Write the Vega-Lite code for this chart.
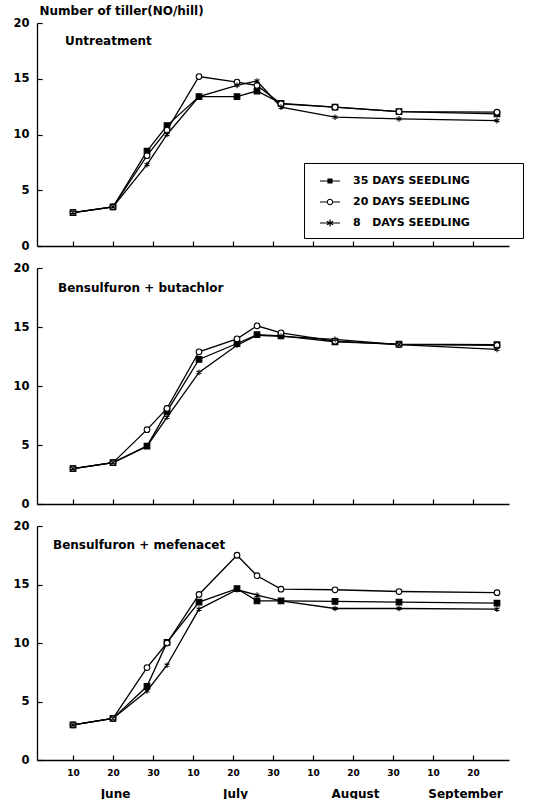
{
  "$schema": "https://vega.github.io/schema/vega-lite/v6.json",
  "background": "white",
  "padding": {"left": 5, "top": 4, "right": 5, "bottom": 0},
  "spacing": 10,
  "config": {
    "view": {"stroke": null},
    "font": "DejaVu Sans",
    "axis": {"domainColor": "black", "domainWidth": 1.3, "tickColor": "black", "tickWidth": 1.2, "labelColor": "black", "labelFont": "DejaVu Sans", "labelFontWeight": "bold", "titleFont": "DejaVu Sans", "titleColor": "black", "grid": false}
  },
  "resolve": {"scale": {"shape": "independent", "fill": "independent"}},
  "datasets": {
    "tiller": [
      {"p": "U", "s": "35 DAYS SEEDLING", "d": 10, "v": 3.0},
      {"p": "U", "s": "35 DAYS SEEDLING", "d": 20, "v": 3.5},
      {"p": "U", "s": "35 DAYS SEEDLING", "d": 28.5, "v": 8.5},
      {"p": "U", "s": "35 DAYS SEEDLING", "d": 33.5, "v": 10.8},
      {"p": "U", "s": "35 DAYS SEEDLING", "d": 41.5, "v": 13.4},
      {"p": "U", "s": "35 DAYS SEEDLING", "d": 51, "v": 13.4},
      {"p": "U", "s": "35 DAYS SEEDLING", "d": 56, "v": 13.9},
      {"p": "U", "s": "35 DAYS SEEDLING", "d": 62, "v": 12.8},
      {"p": "U", "s": "35 DAYS SEEDLING", "d": 75.5, "v": 12.45},
      {"p": "U", "s": "35 DAYS SEEDLING", "d": 91.5, "v": 12.05},
      {"p": "U", "s": "35 DAYS SEEDLING", "d": 116, "v": 11.85},
      {"p": "U", "s": "20 DAYS SEEDLING", "d": 10, "v": 3.0},
      {"p": "U", "s": "20 DAYS SEEDLING", "d": 20, "v": 3.5},
      {"p": "U", "s": "20 DAYS SEEDLING", "d": 28.5, "v": 8.1},
      {"p": "U", "s": "20 DAYS SEEDLING", "d": 33.5, "v": 10.4},
      {"p": "U", "s": "20 DAYS SEEDLING", "d": 41.5, "v": 15.2},
      {"p": "U", "s": "20 DAYS SEEDLING", "d": 51, "v": 14.7},
      {"p": "U", "s": "20 DAYS SEEDLING", "d": 56, "v": 14.4},
      {"p": "U", "s": "20 DAYS SEEDLING", "d": 62, "v": 12.75},
      {"p": "U", "s": "20 DAYS SEEDLING", "d": 75.5, "v": 12.45},
      {"p": "U", "s": "20 DAYS SEEDLING", "d": 91.5, "v": 12.05},
      {"p": "U", "s": "20 DAYS SEEDLING", "d": 116, "v": 12.0},
      {"p": "U", "s": "8 DAYS SEEDLING", "d": 10, "v": 3.0},
      {"p": "U", "s": "8 DAYS SEEDLING", "d": 20, "v": 3.5},
      {"p": "U", "s": "8 DAYS SEEDLING", "d": 28.5, "v": 7.3},
      {"p": "U", "s": "8 DAYS SEEDLING", "d": 33.5, "v": 10.0},
      {"p": "U", "s": "8 DAYS SEEDLING", "d": 41.5, "v": 13.4},
      {"p": "U", "s": "8 DAYS SEEDLING", "d": 51, "v": 14.4},
      {"p": "U", "s": "8 DAYS SEEDLING", "d": 56, "v": 14.8},
      {"p": "U", "s": "8 DAYS SEEDLING", "d": 62, "v": 12.45},
      {"p": "U", "s": "8 DAYS SEEDLING", "d": 75.5, "v": 11.55},
      {"p": "U", "s": "8 DAYS SEEDLING", "d": 91.5, "v": 11.4},
      {"p": "U", "s": "8 DAYS SEEDLING", "d": 116, "v": 11.25},
      {"p": "B", "s": "35 DAYS SEEDLING", "d": 10, "v": 3.0},
      {"p": "B", "s": "35 DAYS SEEDLING", "d": 20, "v": 3.5},
      {"p": "B", "s": "35 DAYS SEEDLING", "d": 28.5, "v": 4.9},
      {"p": "B", "s": "35 DAYS SEEDLING", "d": 33.5, "v": 7.85},
      {"p": "B", "s": "35 DAYS SEEDLING", "d": 41.5, "v": 12.25},
      {"p": "B", "s": "35 DAYS SEEDLING", "d": 51, "v": 13.6},
      {"p": "B", "s": "35 DAYS SEEDLING", "d": 56, "v": 14.35},
      {"p": "B", "s": "35 DAYS SEEDLING", "d": 62, "v": 14.25},
      {"p": "B", "s": "35 DAYS SEEDLING", "d": 75.5, "v": 13.75},
      {"p": "B", "s": "35 DAYS SEEDLING", "d": 91.5, "v": 13.55},
      {"p": "B", "s": "35 DAYS SEEDLING", "d": 116, "v": 13.5},
      {"p": "B", "s": "20 DAYS SEEDLING", "d": 10, "v": 3.0},
      {"p": "B", "s": "20 DAYS SEEDLING", "d": 20, "v": 3.5},
      {"p": "B", "s": "20 DAYS SEEDLING", "d": 28.5, "v": 6.3},
      {"p": "B", "s": "20 DAYS SEEDLING", "d": 33.5, "v": 8.1},
      {"p": "B", "s": "20 DAYS SEEDLING", "d": 41.5, "v": 12.9},
      {"p": "B", "s": "20 DAYS SEEDLING", "d": 51, "v": 14.0},
      {"p": "B", "s": "20 DAYS SEEDLING", "d": 56, "v": 15.1},
      {"p": "B", "s": "20 DAYS SEEDLING", "d": 62, "v": 14.5},
      {"p": "B", "s": "20 DAYS SEEDLING", "d": 75.5, "v": 13.8},
      {"p": "B", "s": "20 DAYS SEEDLING", "d": 91.5, "v": 13.5},
      {"p": "B", "s": "20 DAYS SEEDLING", "d": 116, "v": 13.45},
      {"p": "B", "s": "8 DAYS SEEDLING", "d": 10, "v": 3.0},
      {"p": "B", "s": "8 DAYS SEEDLING", "d": 20, "v": 3.5},
      {"p": "B", "s": "8 DAYS SEEDLING", "d": 28.5, "v": 4.9},
      {"p": "B", "s": "8 DAYS SEEDLING", "d": 33.5, "v": 7.35},
      {"p": "B", "s": "8 DAYS SEEDLING", "d": 41.5, "v": 11.15},
      {"p": "B", "s": "8 DAYS SEEDLING", "d": 51, "v": 13.45},
      {"p": "B", "s": "8 DAYS SEEDLING", "d": 56, "v": 14.3},
      {"p": "B", "s": "8 DAYS SEEDLING", "d": 62, "v": 14.2},
      {"p": "B", "s": "8 DAYS SEEDLING", "d": 75.5, "v": 13.95},
      {"p": "B", "s": "8 DAYS SEEDLING", "d": 91.5, "v": 13.5},
      {"p": "B", "s": "8 DAYS SEEDLING", "d": 116, "v": 13.1},
      {"p": "M", "s": "35 DAYS SEEDLING", "d": 10, "v": 3.0},
      {"p": "M", "s": "35 DAYS SEEDLING", "d": 20, "v": 3.55},
      {"p": "M", "s": "35 DAYS SEEDLING", "d": 28.5, "v": 6.3},
      {"p": "M", "s": "35 DAYS SEEDLING", "d": 33.5, "v": 10.05},
      {"p": "M", "s": "35 DAYS SEEDLING", "d": 41.5, "v": 13.5},
      {"p": "M", "s": "35 DAYS SEEDLING", "d": 51, "v": 14.65},
      {"p": "M", "s": "35 DAYS SEEDLING", "d": 56, "v": 13.6},
      {"p": "M", "s": "35 DAYS SEEDLING", "d": 62, "v": 13.6},
      {"p": "M", "s": "35 DAYS SEEDLING", "d": 75.5, "v": 13.55},
      {"p": "M", "s": "35 DAYS SEEDLING", "d": 91.5, "v": 13.5},
      {"p": "M", "s": "35 DAYS SEEDLING", "d": 116, "v": 13.4},
      {"p": "M", "s": "20 DAYS SEEDLING", "d": 10, "v": 3.0},
      {"p": "M", "s": "20 DAYS SEEDLING", "d": 20, "v": 3.55},
      {"p": "M", "s": "20 DAYS SEEDLING", "d": 28.5, "v": 7.9},
      {"p": "M", "s": "20 DAYS SEEDLING", "d": 33.5, "v": 10.0},
      {"p": "M", "s": "20 DAYS SEEDLING", "d": 41.5, "v": 14.15},
      {"p": "M", "s": "20 DAYS SEEDLING", "d": 51, "v": 17.5},
      {"p": "M", "s": "20 DAYS SEEDLING", "d": 56, "v": 15.75},
      {"p": "M", "s": "20 DAYS SEEDLING", "d": 62, "v": 14.6},
      {"p": "M", "s": "20 DAYS SEEDLING", "d": 75.5, "v": 14.55},
      {"p": "M", "s": "20 DAYS SEEDLING", "d": 91.5, "v": 14.4},
      {"p": "M", "s": "20 DAYS SEEDLING", "d": 116, "v": 14.3},
      {"p": "M", "s": "8 DAYS SEEDLING", "d": 10, "v": 3.0},
      {"p": "M", "s": "8 DAYS SEEDLING", "d": 20, "v": 3.55},
      {"p": "M", "s": "8 DAYS SEEDLING", "d": 28.5, "v": 5.9},
      {"p": "M", "s": "8 DAYS SEEDLING", "d": 33.5, "v": 8.1},
      {"p": "M", "s": "8 DAYS SEEDLING", "d": 41.5, "v": 12.9},
      {"p": "M", "s": "8 DAYS SEEDLING", "d": 51, "v": 14.55},
      {"p": "M", "s": "8 DAYS SEEDLING", "d": 56, "v": 14.1},
      {"p": "M", "s": "8 DAYS SEEDLING", "d": 62, "v": 13.6},
      {"p": "M", "s": "8 DAYS SEEDLING", "d": 75.5, "v": 12.95},
      {"p": "M", "s": "8 DAYS SEEDLING", "d": 91.5, "v": 12.95},
      {"p": "M", "s": "8 DAYS SEEDLING", "d": 116, "v": 12.9}
    ]
  },
  "vconcat": [
    {
      "width": 472, "height": 223,
      "resolve": {"scale": {"shape": "independent", "fill": "independent"}},
      "layer": [
        {
          "data": {"name": "tiller"},
          "transform": [{"filter": "datum.p == 'U'"}],
          "mark": {"type": "line", "color": "black", "strokeWidth": 1.3},
          "encoding": {
            "x": {"field": "d", "type": "quantitative", "scale": {"domain": [1, 119], "nice": false, "zero": false},
                  "axis": {"values": [10, 20, 30, 40, 50, 60, 70, 80, 90, 100, 110], "labels": false, "tickSize": -5, "title": null}},
            "y": {"field": "v", "type": "quantitative", "scale": {"domain": [0, 20], "nice": false},
                  "axis": {"values": [0, 5, 10, 15, 20], "tickSize": -5, "labelPadding": 13, "labelFontSize": 11.5, "minExtent": 32, "maxExtent": 32,
                           "title": "Number of tiller(NO/hill)", "titleAngle": 0, "titleAlign": "left", "titleBaseline": "alphabetic", "titleX": 2, "titleY": -9, "titleFontSize": 12, "titleFontWeight": "bold"}},
            "detail": {"field": "s"}
          }
        },
        {
          "data": {"name": "tiller"},
          "transform": [{"filter": "datum.p == 'U'"}],
          "mark": {"type": "point", "filled": true, "stroke": "black", "strokeWidth": 1.1, "opacity": 1, "size": 32},
          "encoding": {
            "x": {"field": "d", "type": "quantitative", "scale": {"domain": [1, 119], "nice": false, "zero": false}},
            "y": {"field": "v", "type": "quantitative", "scale": {"domain": [0, 20], "nice": false}},
            "shape": {"field": "s", "type": "nominal",
                      "scale": {"domain": ["35 DAYS SEEDLING", "20 DAYS SEEDLING", "8 DAYS SEEDLING"], "range": ["square", "circle", "M0,-1V1M-0.87,-0.5L0.87,0.5M-0.87,0.5L0.87,-0.5"]},
                      "legend": null},
            "fill": {"field": "s", "type": "nominal", "scale": {"domain": ["35 DAYS SEEDLING", "20 DAYS SEEDLING", "8 DAYS SEEDLING"], "range": ["black", "white", "black"]}, "legend": null}
          }
        },
        {
          "data": {"name": "tiller"},
          "transform": [{"filter": "datum.p == 'none'"}],
          "mark": {"type": "point", "filled": true, "fill": "black", "color": "black", "stroke": "transparent", "opacity": 1},
          "encoding": {
            "x": {"field": "d", "type": "quantitative", "scale": {"domain": [1, 119], "nice": false, "zero": false}},
            "y": {"field": "v", "type": "quantitative", "scale": {"domain": [0, 20], "nice": false}},
            "shape": {"field": "s", "type": "nominal",
                      "scale": {"domain": ["35 DAYS SEEDLING", "20 DAYS SEEDLING", "8 DAYS SEEDLING"],
                                "range": [
                                  "M-0.25,-0.075H2.25V0.075H-0.25ZM0.68,-0.32H1.32V0.32H0.68Z",
                                  "M-0.25,-0.075H0.62V0.075H-0.25ZM1.38,-0.075H2.25V0.075H1.38ZM0.6,0A0.4,0.4 0 1,1 1.4,0A0.4,0.4 0 1,1 0.6,0ZM0.73,0A0.27,0.27 0 1,0 1.27,0A0.27,0.27 0 1,0 0.73,0Z",
                                  "M-0.25,-0.075H2.25V0.075H-0.25ZM0.925,-0.45H1.075V0.45H0.925ZM0.5725,-0.16L0.6475,-0.29L1.4275,0.16L1.3525,0.29ZM0.6475,0.29L0.5725,0.16L1.3525,-0.29L1.4275,-0.16Z"
                                ]},
                      "legend": {
                        "orient": "none", "legendX": 267, "legendY": 140, "title": null,
                        "padding": 10, "strokeColor": "black", "fillColor": "white",
                        "symbolSize": 256, "rowPadding": 8, "labelOffset": 23,
                        "symbolFillColor": "black", "symbolStrokeColor": "transparent", "symbolStrokeWidth": 0,
                        "labelFont": "DejaVu Sans", "labelFontWeight": "bold", "labelFontSize": 11, "labelColor": "black", "labelLimit": 400,
                        "labelExpr": "(datum.label == '8 DAYS SEEDLING' ? '8\u2007 DAYS SEEDLING' : datum.label) + '\u2800\u2800\u2800\u2800\u2800'"
                      }}
          }
        },
        {
          "data": {"values": [{"t": "Untreatment"}]},
          "mark": {"type": "text", "align": "left", "baseline": "middle", "font": "DejaVu Sans", "fontWeight": "bold", "fontSize": 12, "color": "black"},
          "encoding": {
            "x": {"datum": 8, "type": "quantitative", "scale": {"domain": [1, 119], "nice": false, "zero": false}},
            "y": {"datum": 18.4, "type": "quantitative", "scale": {"domain": [0, 20], "nice": false}},
            "text": {"field": "t"}
          }
        }
      ]
    },
    {
      "width": 472, "height": 236,
      "layer": [
        {
          "data": {"name": "tiller"},
          "transform": [{"filter": "datum.p == 'B'"}],
          "mark": {"type": "line", "color": "black", "strokeWidth": 1.3},
          "encoding": {
            "x": {"field": "d", "type": "quantitative", "scale": {"domain": [1, 119], "nice": false, "zero": false},
                  "axis": {"values": [10, 20, 30, 40, 50, 60, 70, 80, 90, 100, 110], "labels": false, "tickSize": -5, "title": null}},
            "y": {"field": "v", "type": "quantitative", "scale": {"domain": [0, 20], "nice": false},
                  "axis": {"values": [0, 5, 10, 15, 20], "tickSize": -5, "labelPadding": 13, "labelFontSize": 11.5, "minExtent": 32, "maxExtent": 32, "title": null}},
            "detail": {"field": "s"}
          }
        },
        {
          "data": {"name": "tiller"},
          "transform": [{"filter": "datum.p == 'B'"}],
          "mark": {"type": "point", "filled": true, "stroke": "black", "strokeWidth": 1.1, "opacity": 1, "size": 32},
          "encoding": {
            "x": {"field": "d", "type": "quantitative", "scale": {"domain": [1, 119], "nice": false, "zero": false}},
            "y": {"field": "v", "type": "quantitative", "scale": {"domain": [0, 20], "nice": false}},
            "shape": {"field": "s", "type": "nominal",
                      "scale": {"domain": ["35 DAYS SEEDLING", "20 DAYS SEEDLING", "8 DAYS SEEDLING"], "range": ["square", "circle", "M0,-1V1M-0.87,-0.5L0.87,0.5M-0.87,0.5L0.87,-0.5"]},
                      "legend": null},
            "fill": {"field": "s", "type": "nominal", "scale": {"domain": ["35 DAYS SEEDLING", "20 DAYS SEEDLING", "8 DAYS SEEDLING"], "range": ["black", "white", "black"]}, "legend": null}
          }
        },
        {
          "data": {"values": [{"t": "Bensulfuron + butachlor"}]},
          "mark": {"type": "text", "align": "left", "baseline": "middle", "font": "DejaVu Sans", "fontWeight": "bold", "fontSize": 12, "color": "black"},
          "encoding": {
            "x": {"datum": 6.25, "type": "quantitative", "scale": {"domain": [1, 119], "nice": false, "zero": false}},
            "y": {"datum": 18.3, "type": "quantitative", "scale": {"domain": [0, 20], "nice": false}},
            "text": {"field": "t"}
          }
        }
      ]
    },
    {
      "width": 472, "height": 234,
      "resolve": {"axis": {"x": "independent"}},
      "layer": [
        {
          "data": {"name": "tiller"},
          "transform": [{"filter": "datum.p == 'M'"}],
          "mark": {"type": "line", "color": "black", "strokeWidth": 1.3},
          "encoding": {
            "x": {"field": "d", "type": "quantitative", "scale": {"domain": [1, 119], "nice": false, "zero": false},
                  "axis": {"orient": "bottom", "values": [10, 20, 30, 40, 50, 60, 70, 80, 90, 100, 110], "labelExpr": "'' + ((datum.value - 1) % 30 + 1)", "labelFontSize": 9, "labelPadding": 13, "labelFlush": false, "labelOverlap": false, "tickSize": -5, "title": null}},
            "y": {"field": "v", "type": "quantitative", "scale": {"domain": [0, 20], "nice": false},
                  "axis": {"values": [0, 5, 10, 15, 20], "tickSize": -5, "labelPadding": 13, "labelFontSize": 11.5, "minExtent": 32, "maxExtent": 32, "title": null}},
            "detail": {"field": "s"}
          }
        },
        {
          "data": {"name": "tiller"},
          "transform": [{"filter": "datum.p == 'M'"}],
          "mark": {"type": "point", "filled": true, "stroke": "black", "strokeWidth": 1.1, "opacity": 1, "size": 32},
          "encoding": {
            "x": {"field": "d", "type": "quantitative", "scale": {"domain": [1, 119], "nice": false, "zero": false},
                  "axis": {"orient": "bottom", "values": [20.5, 50.5, 80.5, 108], "labelExpr": "datum.value < 30 ? 'June' : datum.value < 60 ? 'July' : datum.value < 90 ? 'August' : 'September'", "labelFontSize": 12, "labelPadding": 28, "labelFlush": false, "labelOverlap": false, "ticks": false, "domain": false, "title": null}},
            "y": {"field": "v", "type": "quantitative", "scale": {"domain": [0, 20], "nice": false}},
            "shape": {"field": "s", "type": "nominal",
                      "scale": {"domain": ["35 DAYS SEEDLING", "20 DAYS SEEDLING", "8 DAYS SEEDLING"], "range": ["square", "circle", "M0,-1V1M-0.87,-0.5L0.87,0.5M-0.87,0.5L0.87,-0.5"]},
                      "legend": null},
            "fill": {"field": "s", "type": "nominal", "scale": {"domain": ["35 DAYS SEEDLING", "20 DAYS SEEDLING", "8 DAYS SEEDLING"], "range": ["black", "white", "black"]}, "legend": null}
          }
        },
        {
          "data": {"values": [{"t": "Bensulfuron + mefenacet"}]},
          "mark": {"type": "text", "align": "left", "baseline": "middle", "font": "DejaVu Sans", "fontWeight": "bold", "fontSize": 12, "color": "black"},
          "encoding": {
            "x": {"datum": 5, "type": "quantitative", "scale": {"domain": [1, 119], "nice": false, "zero": false}, "axis": null},
            "y": {"datum": 18.4, "type": "quantitative", "scale": {"domain": [0, 20], "nice": false}},
            "text": {"field": "t"}
          }
        }
      ]
    }
  ]
}
